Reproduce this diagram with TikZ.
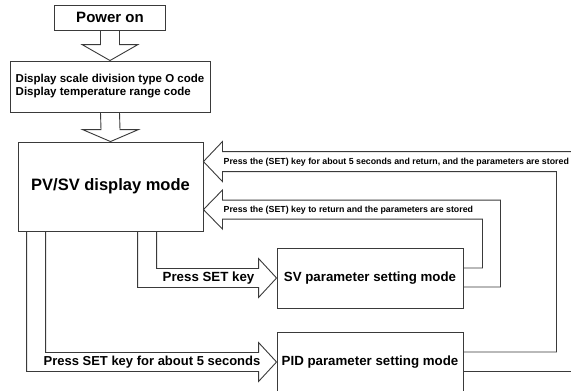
\documentclass[tikz,border=0pt]{standalone}
\usepackage{fontspec}
\setmainfont{Liberation Sans}
\usetikzlibrary{calc}

\definecolor{edge}{HTML}{3A3A3A}

\begin{document}
\begin{tikzpicture}[x=1pt,y=-1pt,
  box/.style={draw=edge, line width=0.9pt, inner sep=0pt},
  fat/.style={draw=edge, line width=0.9pt, line join=miter},
  lbl/.style={inner sep=0pt, font=\bfseries\fontsize{8.8}{10}\selectfont}]
\useasboundingbox (0,0) rectangle (571,391);

\draw[solid]
(110,17.5) node[box, minimum width=111pt, minimum height=25pt, font=\bfseries\fontsize{15}{18}\selectfont] (P) {Power on}
(110,86.5) node[box, minimum width=200pt, minimum height=51pt, align=left, font=\bfseries\fontsize{11.5}{13}\selectfont] (D) {Display scale division type O code\\Display temperature range code}
(110.5,186.5) node[box, minimum width=185pt, minimum height=89pt, font=\bfseries\fontsize{16.5}{20}\selectfont] (PV) {PV/SV display mode}
(370,278) node[box, minimum width=186pt, minimum height=60pt, font=\bfseries\fontsize{13.3}{16}\selectfont] (SV) {SV parameter setting mode}
(370,362) node[box, minimum width=186pt, minimum height=60pt, font=\bfseries\fontsize{13.3}{16}\selectfont] (PID) {PID parameter setting mode};

\coordinate (T1) at ($(PV.north east)+(0,20)$);
\coordinate (T2) at ($(PV.north east)+(0,68)$);

% down arrows
\draw[fat] ($(P.south)+(-9.5,0)$) -- ($(D.north)+(-9.5,-16)$) -- ($(D.north)+(-28,-16)$) -- (D.north) -- ($(D.north)+(28,-16)$) -- ($(D.north)+(9.5,-16)$) -- ($(P.south)+(9.5,0)$);
\draw[fat] ($(D.south)+(-9.5,0)$) -- ($(PV.north)+(-9.5,-12)$) -- ($(PV.north)+(-28,-12)$) -- (PV.north) -- ($(PV.north)+(28,-12)$) -- ($(PV.north)+(9.5,-12)$) -- ($(D.south)+(9.5,0)$);

% PV -> SV, PV -> PID
\draw[fat] ($(PV.south west)+(120,0)$) |- ($(SV.west)+(-18,9.5)$) -- ++(0,10) -- (SV.west) -- ($(SV.west)+(-18,-19.5)$) -- ++(0,10) -| ($(PV.south west)+(139,0)$);
\draw[fat] ($(PV.south west)+(9,0)$) |- ($(PID.west)+(-18,9.5)$) -- ++(0,10) -- (PID.west) -- ($(PID.west)+(-18,-19.5)$) -- ++(0,10) -| ($(PV.south west)+(28,0)$);

% returns
\draw[fat] ($(SV.east)+(0,-10)$) -- ++(19,0) |- ($(T2)+(19,9.5)$) -- ++(0,10) -- (T2) -- ($(T2)+(19,-19.5)$) -- ++(0,10) -| ($(SV.east)+(37,9)$) -- ($(SV.east)+(0,9)$);
\draw[fat] ($(PID.east)+(0,-10)$) -- ++(93,0) |- ($(T1)+(19,10)$) -- ++(0,10) -- (T1) -- ($(T1)+(19,-20)$) -- ++(0,10) -- ++(360,0);
\draw[fat] ($(PID.east)+(0,9)$) -- ++(120,0);

\node[lbl, anchor=west] (L1) at ($(T1)+(20,0.5)$) {Press the (SET) key for about 5 seconds and return, and the parameters are stored};
\node[lbl, anchor=west] (L2) at ($(T2)+(20,0.5)$) {Press the (SET) key to return and the parameters are stored};
\node[lbl, anchor=east, font=\bfseries\fontsize{13.3}{16}\selectfont] (L3) at ($(SV.west)+(-22,0.5)$) {Press SET key};
\node[lbl, anchor=east, font=\bfseries\fontsize{13}{16}\selectfont] (L4) at ($(PID.west)+(-16,0.5)$) {Press SET key for about 5 seconds};
\end{tikzpicture}
\end{document}
